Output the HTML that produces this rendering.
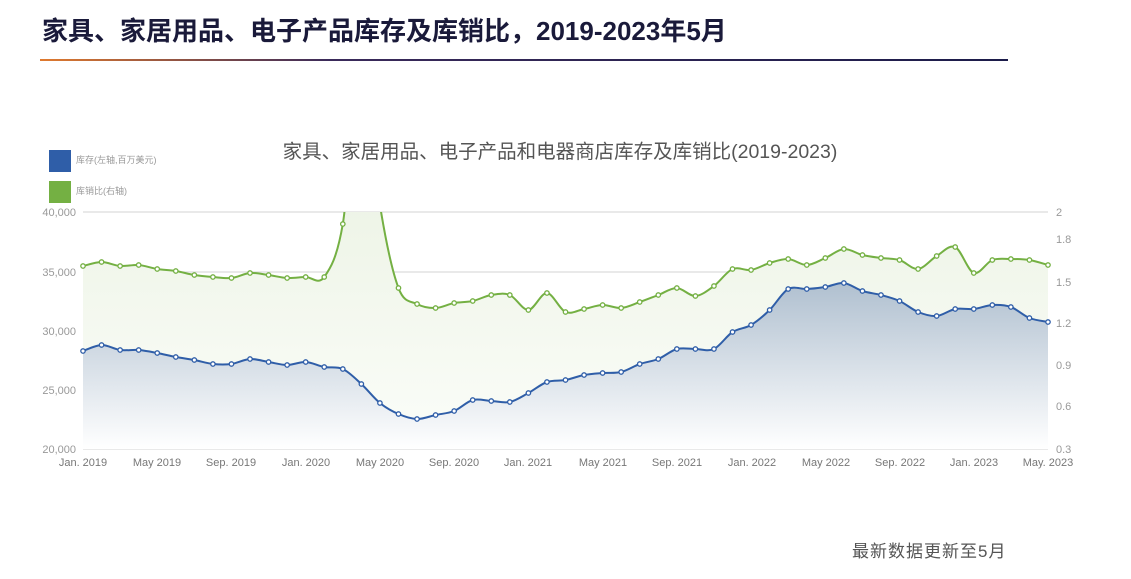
<!DOCTYPE html>
<html><head><meta charset="utf-8">
<style>
body{margin:0;width:1131px;height:579px;background:#fff;overflow:hidden;font-family:"Liberation Sans","Noto Sans CJK SC",sans-serif;}
.t{position:absolute;left:42px;top:11px;font-size:26px;font-weight:bold;color:#1a1a3a;letter-spacing:0px}
.ln{position:absolute;left:40px;top:59px;width:968px;height:2px;background:linear-gradient(90deg,#e07a2e,#3a2a5a 30%,#1c1c4a)}
.ft{position:absolute;left:852px;top:537px;font-size:17px;letter-spacing:1px;color:#555}
</style></head><body>
<div class="t">家具、家居用品、电子产品库存及库销比，2019-2023年5月</div>
<div class="ln"></div>
<svg width="1131" height="579" style="position:absolute;left:0;top:0" font-family="Liberation Sans,Noto Sans CJK SC,sans-serif">
<defs>
<linearGradient id="gb" x1="0" y1="0" x2="0" y2="1"><stop offset="0" stop-color="#b0c0d0"/><stop offset="1" stop-color="#ffffff"/></linearGradient>
<linearGradient id="gg" x1="0" y1="0" x2="0" y2="1"><stop offset="0" stop-color="#e6efdc"/><stop offset="1" stop-color="#fbfdf9"/></linearGradient>
<clipPath id="cp"><rect x="60" y="212" width="1010" height="238"/></clipPath>
</defs>
<text x="560" y="158" text-anchor="middle" font-size="19.5" fill="#555">家具、家居用品、电子产品和电器商店库存及库销比(2019-2023)</text>
<rect x="49" y="150" width="22" height="22" fill="#2f5ea8"/>
<text x="76" y="163" font-size="9" fill="#999">库存(左轴,百万美元)</text>
<rect x="49" y="181" width="22" height="22" fill="#74b043"/>
<text x="76" y="194" font-size="9" fill="#999">库销比(右轴)</text>
<g stroke="#e2e2e2" stroke-width="1.5">
<line x1="83" y1="212" x2="1048" y2="212"/><line x1="83" y1="272" x2="1048" y2="272"/><line x1="83" y1="331" x2="1048" y2="331"/><line x1="83" y1="390" x2="1048" y2="390"/><line x1="83" y1="449" x2="1048" y2="449"/>
</g>
<g font-size="11" fill="#999" text-anchor="end">
<text x="76" y="216">40,000</text><text x="76" y="276">35,000</text><text x="76" y="335">30,000</text><text x="76" y="394">25,000</text><text x="76" y="453">20,000</text>
</g>
<g font-size="11" fill="#999">
<text x="1056" y="216">2</text><text x="1056" y="243">1.8</text><text x="1056" y="286">1.5</text><text x="1056" y="327">1.2</text><text x="1056" y="369">0.9</text><text x="1056" y="410">0.6</text><text x="1056" y="453">0.3</text>
</g>
<g font-size="11" fill="#777" text-anchor="middle">
<text x="83" y="466">Jan. 2019</text><text x="157" y="466">May 2019</text><text x="231" y="466">Sep. 2019</text><text x="306" y="466">Jan. 2020</text><text x="380" y="466">May 2020</text><text x="454" y="466">Sep. 2020</text><text x="528" y="466">Jan. 2021</text><text x="603" y="466">May 2021</text><text x="677" y="466">Sep. 2021</text><text x="752" y="466">Jan. 2022</text><text x="826" y="466">May 2022</text><text x="900" y="466">Sep. 2022</text><text x="974" y="466">Jan. 2023</text><text x="1048" y="466">May. 2023</text>
</g>
<g id="plot" clip-path="url(#cp)"></g>
</svg>
<div class="ft">最新数据更新至5月</div>
<script>
var G=[266,262,266,265,269,271,275,277,278,273,275,278,277,277,224,60,205,288,304,308,303,301,295,295,310,293,312,309,305,308,302,295,288,296,286,269,270,263,259,265,258,249,255,258,260,269,256,247,273,260,259,260,265];
var B=[351,345,350,350,353,357,360,364,364,359,362,365,362,367,369,384,403,414,419,415,411,400,401,402,393,382,380,375,373,372,364,359,349,349,349,332,325,310,289,289,287,283,291,295,301,312,316,309,309,305,307,318,322];
function X(i){return 83+i*965/52;}
function path(a){var p=[];for(var i=0;i<a.length;i++)p.push([X(i),a[i]]);
var d="M"+p[0][0]+","+p[0][1];
for(var i=0;i<p.length-1;i++){var p0=p[Math.max(0,i-1)],p1=p[i],p2=p[i+1],p3=p[Math.min(p.length-1,i+2)];var t=0.16;
d+=" C"+(p1[0]+(p2[0]-p0[0])*t)+","+(p1[1]+(p2[1]-p0[1])*t)+" "+(p2[0]-(p3[0]-p1[0])*t)+","+(p2[1]-(p3[1]-p1[1])*t)+" "+p2[0]+","+p2[1];}
return d;}
var s="",gd=path(G),bd=path(B);
s+='<path d="'+gd+' L1048,449 L83,449 Z" fill="url(#gg)"/>';
s+='<path d="'+bd+' L1048,449 L83,449 Z" fill="url(#gb)"/>';
s+='<path d="'+gd+'" fill="none" stroke="#74b043" stroke-width="2"/>';
s+='<path d="'+bd+'" fill="none" stroke="#2f5ea8" stroke-width="2"/>';
for(var i=0;i<53;i++){if(G[i]>212)s+='<circle cx="'+X(i)+'" cy="'+G[i]+'" r="2.2" fill="#fff" stroke="#74b043" stroke-width="1.3"/>';
s+='<circle cx="'+X(i)+'" cy="'+B[i]+'" r="2.2" fill="#fff" stroke="#2f5ea8" stroke-width="1.3"/>';}
document.getElementById("plot").innerHTML=s;
</script>
</body></html>
